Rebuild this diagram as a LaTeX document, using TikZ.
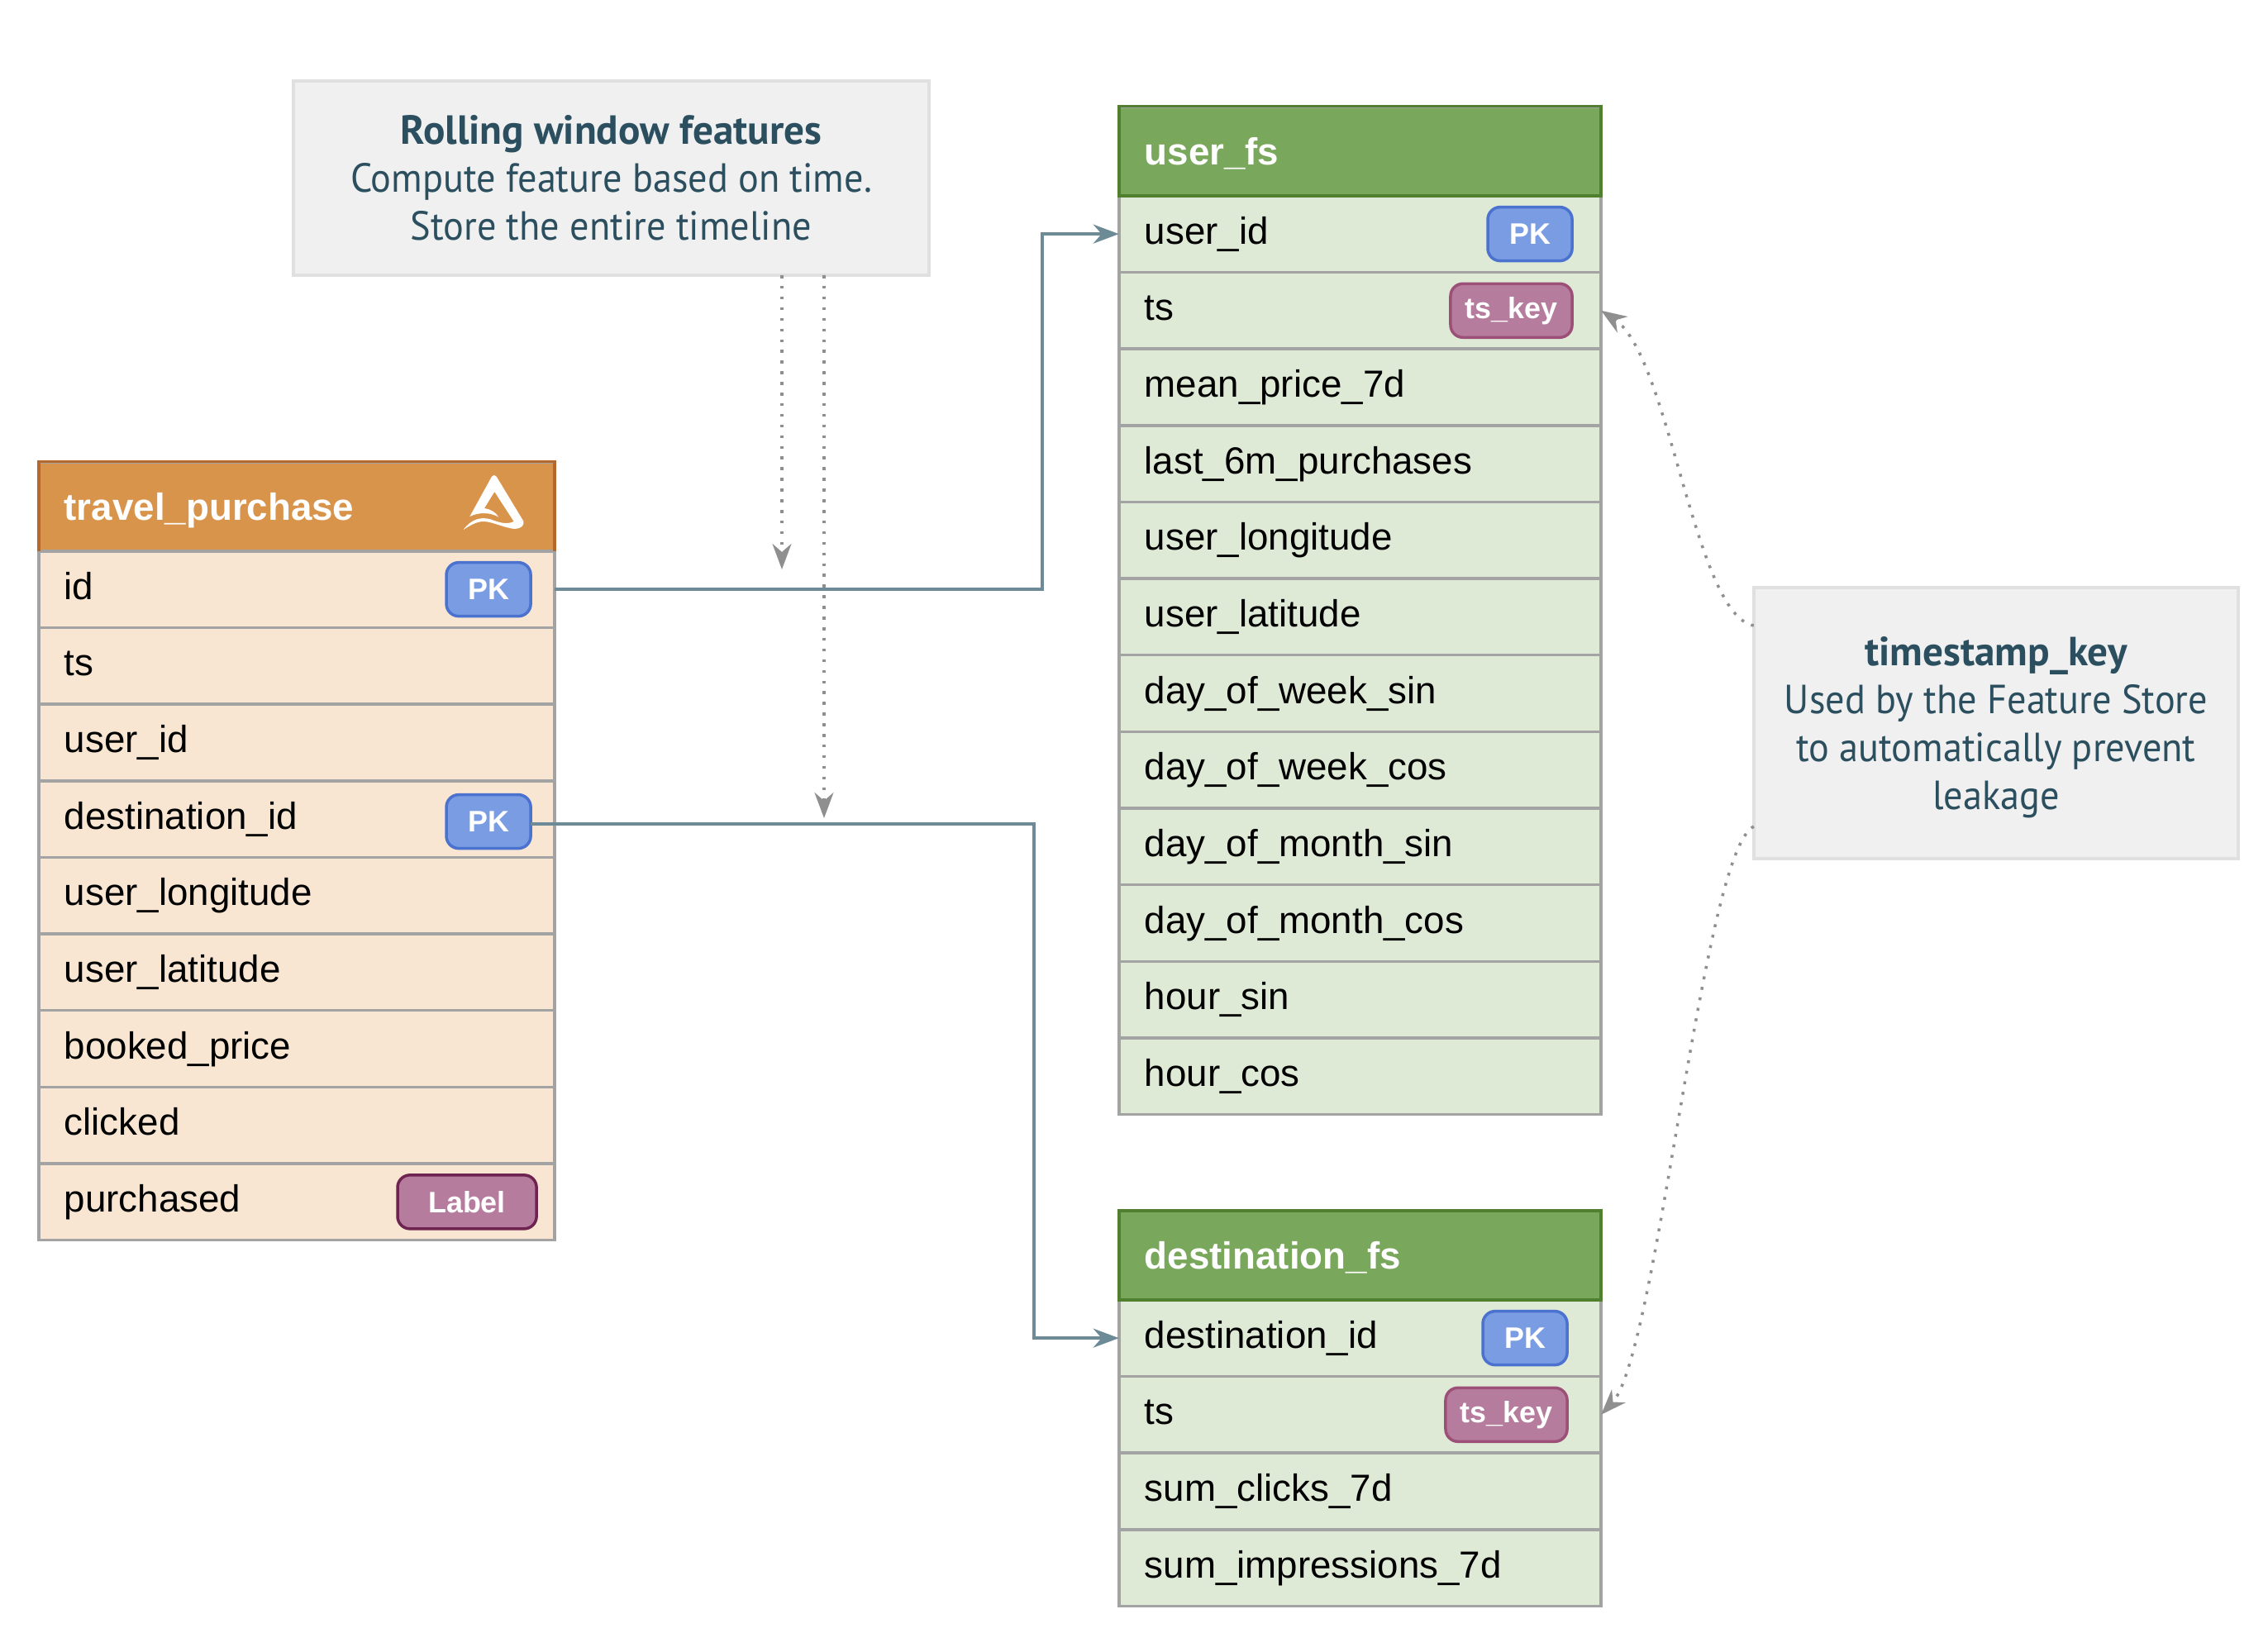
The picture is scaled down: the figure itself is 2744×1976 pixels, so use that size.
\documentclass[tikz,border=0pt]{standalone}
\usepackage{fontspec}
\usetikzlibrary{positioning,arrows.meta,matrix}
\setmainfont{Liberation Sans}
\newfontfamily\notefont[FakeStretch=.94,BoldFeatures={FakeStretch=1}]{PT Sans}
\definecolor{gridgrey}{HTML}{A3A3A3}
\definecolor{orangehead}{HTML}{D9944B}
\definecolor{orangeedge}{HTML}{B5682A}
\definecolor{orangerow}{HTML}{F8E6D2}
\definecolor{greenhead}{HTML}{79A85C}
\definecolor{greenedge}{HTML}{4F7F2F}
\definecolor{greenrow}{HTML}{DEE9D6}
\definecolor{pkfill}{HTML}{7A9CE3}
\definecolor{pkedge}{HTML}{4A72CE}
\definecolor{keyfill}{HTML}{B67C9E}
\definecolor{keyedge}{HTML}{9C5078}
\definecolor{labeledge}{HTML}{6E2350}
\definecolor{notefill}{HTML}{F0F0F0}
\definecolor{noteedge}{HTML}{E0E0E0}
\definecolor{notetext}{HTML}{2C4F5F}
\definecolor{linkteal}{HTML}{6D8B96}
\definecolor{dotgrey}{HTML}{8F8F8F}
\tikzset{
	table/.style={matrix of nodes,%
		anchor=north west, inner sep=0pt, outer sep=0pt,%
		row sep=-.035cm,%
		nodes={draw=gridgrey, line width=.035cm,%
			text width=5.62cm, inner xsep=.31cm, inner ysep=0pt, align=left,%
			minimum height=.926cm, outer sep=0pt, anchor=center,%
			text height=.30cm, text depth=.06cm,%
			font=\fontsize{13pt}{14pt}\selectfont}},
	headcell/.style={minimum height=1.08cm, text height=.40cm, text depth=.06cm,%
		text=white, font=\fontsize{13pt}{14pt}\selectfont\bfseries},
	badge/.style={draw, line width=.035cm, rounded corners=.15cm,%
		minimum height=.65cm, inner sep=0pt, outer sep=0pt, text=white,%
		font=\fontsize{10.2pt}{12pt}\selectfont\bfseries},
	pk/.style={badge, fill=pkfill, draw=pkedge, minimum width=1.02cm},
	tskeybadge/.style={badge, fill=keyfill, draw=keyedge, minimum width=1.47cm},
	labelbadge/.style={badge, fill=keyfill, draw=labeledge, minimum width=1.68cm},
	note/.style={draw=noteedge, fill=notefill, line width=.035cm, align=center,%
		text=notetext, outer sep=0pt,%
		font=\notefont\fontsize{14pt}{16.5pt}\selectfont},
	tip/.style={-{Stealth[length=.31cm, width=.23cm, inset=.10cm]}},
	link/.style={tip, draw=linkteal, line width=.035cm},
	hint/.style={tip, draw=dotgrey, line width=.035cm,%
		dash pattern=on .035cm off .094cm}
}

\begin{document}
\begin{tikzpicture}[x=.01cm,y=-.01cm]
	\useasboundingbox (0,0) rectangle (2744,1976);
	% tables
	\matrix (TP) at (45,557) [table,%
		nodes={fill=orangerow},%
		row 1/.style={nodes={headcell,fill=orangehead}}]%
	{
		travel\_purchase \\
		id \\
		ts \\
		user\_id \\
		destination\_id \\
		user\_longitude \\
		user\_latitude \\
		booked\_price \\
		clicked \\
		purchased \\
	};
	\matrix (UF) at (1352,127) [table,%
		nodes={fill=greenrow,text width=5.21cm},%
		row 1/.style={nodes={headcell,fill=greenhead}}]%
	{
		user\_fs \\
		user\_id \\
		ts \\
		mean\_price\_7d \\
		last\_6m\_purchases \\
		user\_longitude \\
		user\_latitude \\
		day\_of\_week\_sin \\
		day\_of\_week\_cos \\
		day\_of\_month\_sin \\
		day\_of\_month\_cos \\
		hour\_sin \\
		hour\_cos \\
	};
	\matrix (DF) at (1352,1463) [table,%
		nodes={fill=greenrow,text width=5.21cm},%
		row 1/.style={nodes={headcell,fill=greenhead}}]%
	{
		destination\_fs \\
		destination\_id \\
		ts \\
		sum\_clicks\_7d \\
		sum\_impressions\_7d \\
	};
	% header frames
	\draw[orangeedge,line width=.035cm] (TP-1-1.south west) |- (TP-1-1.north east) -- (TP-1-1.south east);
	\draw[greenedge,line width=.035cm] (UF-1-1.south west) rectangle (UF-1-1.north east);
	\draw[greenedge,line width=.035cm] (DF-1-1.south west) rectangle (DF-1-1.north east);
	% badges
	\node[pk, left=.29cm of TP-2-1.east] (idpk) {PK};
	\node[pk, left=.29cm of TP-5-1.east, yshift=-.03cm] (destpk) {PK};
	\node[labelbadge, left=.22cm of TP-10-1.east] (purchasedlabel) {Label};
	\node[pk, left=.35cm of UF-2-1.east] (userpk) {PK};
	\node[tskeybadge, left=.35cm of UF-3-1.east] (userkey) {ts\_key};
	\node[pk, left=.41cm of DF-2-1.east] (dfpk) {PK};
	\node[tskeybadge, left=.41cm of DF-3-1.east] (dfkey) {ts\_key};
	% logo
	\begin{scope}[shift={(550,560)},scale=.3333]
		\fill[white] (55,195) -- (135,50) .. controls (140,43) and (147,43) .. (152,50) -- (250,212) -- (215,213) -- (145,105) -- (108,165) .. controls (130,168) and (150,180) .. (160,197) .. controls (130,180) and (90,178) .. cycle;
		\fill[white] (32,243) .. controls (60,205) and (95,195) .. (130,205) .. controls (165,218) and (190,225) .. (215,213) -- (250,212) .. controls (255,235) and (225,245) .. (200,237) .. controls (160,228) and (130,212) .. (100,213) .. controls (75,216) and (55,228) .. cycle;
	\end{scope}
	% notes
	\node[note, minimum width=7.69cm, minimum height=2.35cm] (rolling) at (739.5,215.5) {{\bfseries Rolling window features}\\Compute feature based on time.\\Store the entire timeline};
	\node[note, minimum width=5.86cm, minimum height=3.28cm] (tskey) at (2415,875) {{\rule{0pt}{.46cm}\bfseries timestamp\_key}\\Used by the Feature Store\\to automatically prevent\\leakage};
	% links
	\draw[link] (TP-2-1.east) -- ++(590,0) |- (UF-2-1.west);
	\draw[link] ([yshift=-.03cm]destpk.east) -- ++(609,0) |- (DF-2-1.west);
	% hints
	\coordinate (rollfirst) at (946,689);
	\coordinate (rollsecond) at (997,990);
	\draw[hint] (rolling.south -| rollfirst) -- (rollfirst);
	\draw[hint] (rolling.south -| rollsecond) -- (rollsecond);
	\draw[hint] ([yshift=1.18cm]tskey.west) .. controls (2050,745) and (2020,430) .. (UF-3-1.east);
	\draw[hint] ([yshift=-1.25cm]tskey.west) .. controls (2060,1030) and (2005,1640) .. (DF-3-1.east);
\end{tikzpicture}
\end{document}
